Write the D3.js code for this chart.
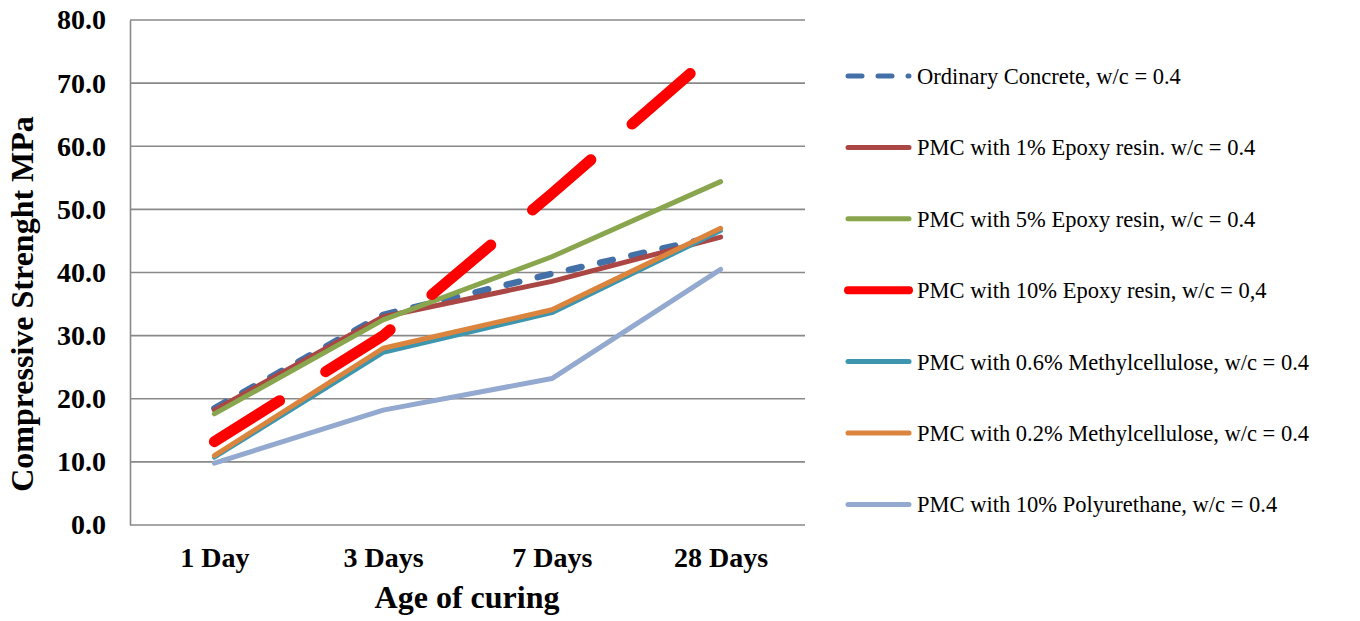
<!DOCTYPE html>
<meta charset="utf-8">
<script src="https://d3js.org/d3.v7.min.js"></script>
<style>
  body { margin: 0; background: #fff; }
  text { font-family: "Liberation Serif", "Times New Roman", serif; }
</style>
<div id="chart"></div>
<script>

// chart data
var ages = ["1 Day", "3 Days", "7 Days", "28 Days"];
var yTicks = [0, 10, 20, 30, 40, 50, 60, 70, 80];

var seriesNames = [
  "Ordinary Concrete, w/c = 0.4",
  "PMC with 1% Epoxy resin. w/c = 0.4",
  "PMC with 5% Epoxy resin, w/c = 0.4",
  "PMC with 10% Epoxy resin, w/c = 0,4",
  "PMC with 0.6% Methylcellulose, w/c = 0.4",
  "PMC with 0.2% Methylcellulose, w/c = 0.4",
  "PMC with 10% Polyurethane, w/c = 0.4"
];

var ordinary   = [18.5, 33.3, 39.8, 45.9];
var epoxy1     = [18.2, 33.0, 38.6, 45.6];
var epoxy5     = [17.6, 32.5, 42.5, 54.4];
var epoxy10    = [13.2, 30.0, 52.5, 75.7];
var methyl06   = [10.7, 27.3, 33.6, 46.6];
var methyl02   = [11.0, 28.0, 34.1, 47.0];
var polyureth  = [9.8, 18.2, 23.2, 40.5];

var allValues = [ordinary, epoxy1, epoxy5, epoxy10, methyl06, methyl02, polyureth];

// line styles for each series
var styles = [
  {color: "#4470A8", width: 6.5, dash: "13,19"},
  {color: "#AA4643", width: 5,   dash: null},
  {color: "#89A54E", width: 5,   dash: null},
  {color: "#FF0000", width: 11,  dash: "77,54.5"},
  {color: "#3D96AE", width: 4.5, dash: null},
  {color: "#DB843D", width: 5,   dash: null},
  {color: "#93A9CF", width: 5,   dash: null}
];

var W = 1360, H = 621;
var plot = {left: 130, right: 805, top: 20, bottom: 525};

var svg = d3.select("#chart")
  .append("svg")
    .attr("width", W)
    .attr("height", H);

var x = d3.scalePoint()
  .domain(ages)
  .range([plot.left, plot.right])
  .padding(0.5);

var y = d3.scaleLinear()
  .domain([0, 80])
  .range([plot.bottom, plot.top]);

// gridlines
svg.append("g")
  .selectAll("line")
  .data(yTicks)
  .enter()
  .append("line")
    .attr("x1", plot.left)
    .attr("x2", plot.right)
    .attr("y1", function(d) { return y(d) })
    .attr("y2", function(d) { return y(d) })
    .attr("stroke", "#898989")
    .attr("stroke-width", 1.6);

// y axis
var yAxis = svg.append("g")
  .attr("transform", "translate(" + plot.left + ",0)")
  .call(d3.axisLeft(y).tickValues(yTicks).tickSize(0).tickPadding(24)
    .tickFormat(d3.format(".1f")));
yAxis.select(".domain").attr("stroke", "#898989").attr("stroke-width", 1.6);
yAxis.selectAll("text")
  .style("font-family", "'Liberation Serif', serif")
  .style("font-size", "28px")
  .style("font-weight", "bold")
  .attr("fill", "#000");

// x axis labels
var xAxis = svg.append("g")
  .attr("transform", "translate(0," + plot.bottom + ")")
  .call(d3.axisBottom(x).tickSize(0).tickPadding(22));
xAxis.select(".domain").remove();
xAxis.selectAll("text")
  .style("font-family", "'Liberation Serif', serif")
  .style("font-size", "28px")
  .style("font-weight", "bold")
  .attr("fill", "#000");

// axis titles
svg.append("text")
  .attr("x", 467)
  .attr("y", 608)
  .attr("text-anchor", "middle")
  .style("font-size", "32px")
  .style("font-weight", "bold")
  .text("Age of curing");

svg.append("text")
  .attr("transform", "translate(33,304) rotate(-90)")
  .attr("text-anchor", "middle")
  .style("font-size", "32px")
  .style("font-weight", "bold")
  .text("Compressive Strenght MPa");

// lines
var line = d3.line()
  .x(function(d, i) { return x(ages[i]) })
  .y(function(d) { return y(d) });

svg.append("g")
  .selectAll("path")
  .data(allValues)
  .enter()
  .append("path")
    .attr("d", line)
    .attr("fill", "none")
    .attr("stroke", function(d, i) { return styles[i].color })
    .attr("stroke-width", function(d, i) { return styles[i].width })
    .attr("stroke-dasharray", function(d, i) { return styles[i].dash })
    .attr("stroke-linecap", "round")
    .attr("stroke-linejoin", "round");

// legend
var legend = svg.append("g")
  .selectAll("g")
  .data(seriesNames)
  .enter()
  .append("g")
    .attr("transform", function(d, i) { return "translate(845," + (76 + i * 71.4) + ")" });

legend.append("line")
  .attr("x1", 3)
  .attr("x2", 64)
  .attr("stroke", function(d, i) { return styles[i].color })
  .attr("stroke-width", function(d, i) { return i == 3 ? 8 : 5 })
  .attr("stroke-dasharray", function(d, i) { return i == 0 ? "14,16" : null })
  .attr("stroke-linecap", "round");

legend.append("text")
  .attr("x", 72)
  .attr("y", 8)
  .style("font-family", "'Liberation Serif', serif")
  .style("font-size", "22.5px")
  .attr("fill", "#000")
  .text(function(d) { return d });

</script>
